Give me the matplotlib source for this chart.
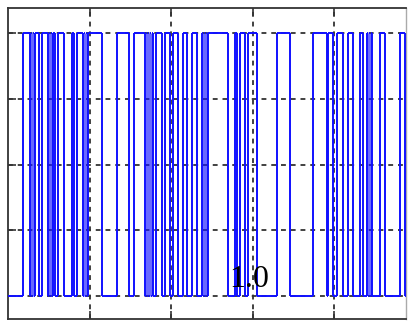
import matplotlib
matplotlib.use('Agg')
import matplotlib.pyplot as plt

# tiempos de conmutacion de la senal binaria (la senal empieza en 0)
t_switch = [0.184, 0.270, 0.282, 0.294, 0.307, 0.319, 0.331, 0.380, 0.417,
            0.491, 0.503, 0.515, 0.528, 0.540, 0.552, 0.577, 0.613, 0.687,
            0.785, 0.810, 0.847, 0.920, 0.933, 0.945, 0.957, 0.969, 0.982,
            1.153, 1.337, 1.485, 1.546,
            1.681, 1.693, 1.706, 1.718, 1.730, 1.742, 1.755, 1.767, 1.779,
            1.816, 1.890, 1.926, 1.988, 2.025, 2.086, 2.147, 2.196, 2.258,
            2.319, 2.380, 2.393, 2.405, 2.417, 2.429, 2.442, 2.454,
            2.699, 2.785, 2.810, 2.847, 2.908, 2.945, 3.055, 3.301, 3.460,
            3.742, 3.914, 3.926, 3.988, 4.037, 4.110, 4.172, 4.233, 4.319,
            4.356, 4.405, 4.417, 4.429, 4.442, 4.454, 4.466, 4.564, 4.626,
            4.810, 4.871]
x_max = 4.883
x_grid = [1, 2, 3, 4]
y_grid = [0, 0.25, 0.5, 0.75, 1.0]
label = '1.0'

blue = '#1010ff'

# tramos horizontales de la senal
t_ini = [0.0] + t_switch
t_fin = t_switch + [x_max]
nivel = [i % 2 for i in range(len(t_ini))]

# grosor de cada flanco: fino si esta dentro de una rafaga rapida
lw_flanco = []
for i, tt in enumerate(t_switch):
    izq = tt - t_switch[i-1] if i > 0 else 1
    der = t_switch[i+1] - tt if i < len(t_switch) - 1 else 1
    if izq < 0.02 and der < 0.02:
        lw_flanco.append(0.45)
    else:
        lw_flanco.append(1.4)

fig = plt.figure(figsize=(4.08, 3.25), dpi=100)
ax = fig.add_axes([8/408, 1 - 319/325, 398/408, 311/325])

ax.hlines(nivel, t_ini, t_fin, color=blue, lw=1.4, zorder=3)
ax.vlines(t_switch, 0, 1, color=blue, lw=lw_flanco, zorder=3)

ax.set_xlim(0, x_max)
ax.set_ylim(-0.087, 1.095)
ax.set_xticks(x_grid)
ax.set_yticks(y_grid)
ax.set_xticklabels([])
ax.set_yticklabels([])
ax.tick_params(direction='in', length=6, width=1.2, color='#333333',
               top=True, bottom=True, left=True, right=False)
ax.grid(True, color='#333333', linestyle=(0, (2.7, 2.7)), lw=1.3, zorder=1)

for side in ['left', 'bottom', 'top']:
    ax.spines[side].set_color('#333333')
    ax.spines[side].set_linewidth(1.3)
ax.spines['right'].set_color('#aaaaaa')
ax.spines['right'].set_linewidth(1.0)

ax.text(2.957, 0.034, label, ha='center', va='baseline', fontsize=23,
        family='Liberation Serif', color='black', zorder=4)

fig.savefig('out.png', dpi=100)
